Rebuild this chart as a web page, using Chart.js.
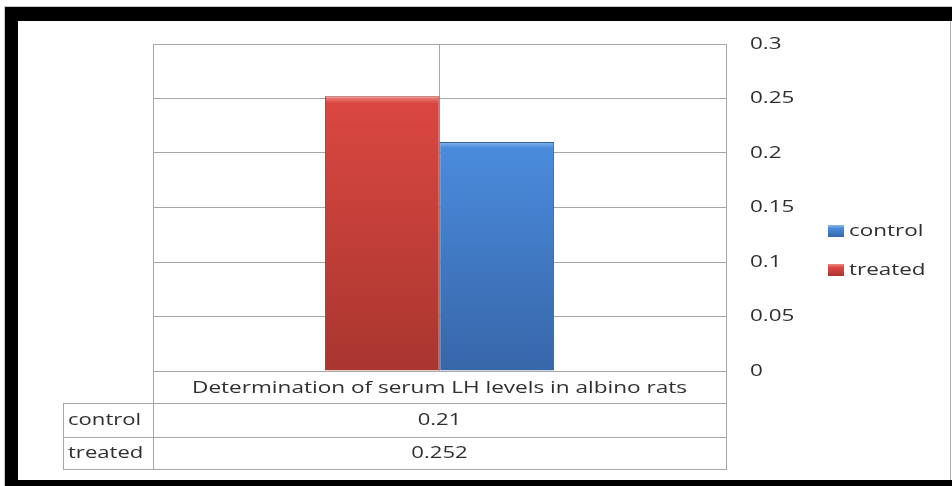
<!DOCTYPE html>
<html>
<head>
<meta charset="utf-8">
<script src="https://cdn.jsdelivr.net/npm/chart.js@4/dist/chart.umd.min.js"></script>
<style>
  body { margin: 0; background: #fff; overflow: hidden; }
  #frame {
    position: absolute; left: 5px; top: 7px; width: 960px; height: 479px;
    box-sizing: border-box; border-top: 14px solid #000; border-left: 13px solid #000;
    border-bottom: 6px solid #000; outline: 1px solid #c8c8c8;
  }
  #edge { position: absolute; left: 950px; top: 21px; width: 1px; height: 459px; background: #b0b0b0; }
  #chart { position: absolute; left: 0; top: 0; }
</style>
</head>
<body>
<div id="frame"></div>
<div id="edge"></div>
<canvas id="chart" width="952" height="486"></canvas>
<script>
const categories = ["Determination of serum LH levels in albino rats"];
const seriesNames = ["treated", "control"];
const treatedValues = [0.252];
const controlValues = [0.21];
const tableRows = ["control", "treated"];
const tableValues = ["0.21", "0.252"];
const yTickValues = [0, 0.05, 0.1, 0.15, 0.2, 0.25, 0.3];

const gridGray = "#a6a6a6";
const textColor = "#2f2f2f";
const fontFamily = "'Open Sans', sans-serif";

function barFill(light, mid, dark) {
  return (ctx) => {
    const chart = ctx.chart;
    if (!chart.chartArea || ctx.raw === undefined) return mid;
    const y = chart.scales.y;
    const top = y.getPixelForValue(ctx.raw);
    const bottom = y.getPixelForValue(0);
    const g = chart.ctx.createLinearGradient(0, top, 0, bottom);
    g.addColorStop(0, light);
    g.addColorStop(0.025, mid);
    g.addColorStop(1, dark);
    return g;
  };
}

const colors = {
  treated: { light: "#f08a82", mid: "#da4741", dark: "#a9362f", border: "#9c302b" },
  control: { light: "#86b6ee", mid: "#4a8bdc", dark: "#3766a8", border: "#31609e" },
};

// the original picture is stretched sideways, so text is widened too
function wideText(ctx, text, x, y, align, sx) {
  ctx.save();
  ctx.translate(x, y);
  ctx.scale(sx, 1);
  ctx.textAlign = align;
  ctx.fillText(text, 0, 0);
  ctx.restore();
}

// y tick labels, legend and the data table under the plot
const tablePlugin = {
  id: "dataTable",
  afterDraw(chart) {
    const ctx = chart.ctx;
    const area = chart.chartArea;
    const left = area.left, right = area.right;
    const headBottom = 403, row1Bottom = 437, tableBottom = 469, labelLeft = 63;
    ctx.save();
    ctx.strokeStyle = gridGray;
    ctx.lineWidth = 1;
    ctx.beginPath();
    ctx.moveTo(left + 0.5, area.top); ctx.lineTo(left + 0.5, tableBottom);
    ctx.moveTo(right + 0.5, area.bottom); ctx.lineTo(right + 0.5, tableBottom);
    ctx.moveTo(labelLeft + 0.5, headBottom); ctx.lineTo(labelLeft + 0.5, tableBottom);
    [headBottom, row1Bottom, tableBottom].forEach((y) => {
      ctx.moveTo(labelLeft, y + 0.5); ctx.lineTo(right + 1, y + 0.5);
    });
    ctx.stroke();

    ctx.fillStyle = textColor;
    ctx.textBaseline = "middle";

    // y axis labels
    const yScale = chart.scales.y;
    ctx.font = "17px " + fontFamily;
    yTickValues.forEach((v) => {
      wideText(ctx, String(v), right + 24, yScale.getPixelForValue(v), "left", 1.32);
    });

    ctx.font = "16px " + fontFamily;
    const cx = (left + right) / 2;
    wideText(ctx, categories[0], cx, (area.bottom + headBottom) / 2 + 1, "center", 1.41);
    const rowMid = [(headBottom + row1Bottom) / 2, (row1Bottom + tableBottom) / 2];
    tableRows.forEach((name, i) => {
      wideText(ctx, tableValues[i], cx, rowMid[i], "center", 1.38);
      wideText(ctx, name, labelLeft + 5, rowMid[i], "left", 1.38);
    });

    // legend, control first
    ctx.font = "17px " + fontFamily;
    const legendOrder = ["control", "treated"];
    legendOrder.forEach((name, i) => {
      const c = colors[name];
      const y = 231 + i * 39;
      const g = ctx.createLinearGradient(0, y - 6, 0, y + 6);
      g.addColorStop(0, c.light);
      g.addColorStop(0.3, c.mid);
      g.addColorStop(1, c.dark);
      ctx.fillStyle = g;
      ctx.fillRect(828, y - 6, 16, 12);
      ctx.fillStyle = textColor;
      wideText(ctx, name, 849, y, "left", 1.32);
    });
    ctx.restore();
  },
};

new Chart(document.getElementById("chart"), {
  type: "bar",
  data: {
    labels: categories,
    datasets: [
      {
        label: seriesNames[0],
        data: treatedValues,
        backgroundColor: barFill(colors.treated.light, colors.treated.mid, colors.treated.dark),
        borderColor: colors.treated.border,
        borderWidth: 1,
      },
      {
        label: seriesNames[1],
        data: controlValues,
        backgroundColor: barFill(colors.control.light, colors.control.mid, colors.control.dark),
        borderColor: colors.control.border,
        borderWidth: 1,
      },
    ],
  },
  options: {
    responsive: false,
    animation: false,
    categoryPercentage: 0.4,
    barPercentage: 1.0,
    layout: { padding: { left: 153, top: 44, bottom: 115, right: 0 } },
    plugins: { legend: { display: false }, tooltip: { enabled: false } },
    scales: {
      x: {
        ticks: { display: false },
        grid: { offset: false, color: gridGray, drawTicks: false },
        border: { display: false },
        afterFit: (scale) => { scale.height = 0; },
      },
      y: {
        position: "right",
        min: 0,
        max: 0.3,
        afterBuildTicks: (scale) => { scale.ticks = yTickValues.map((v) => ({ value: v })); },
        ticks: { display: false },
        grid: { color: gridGray, drawTicks: false },
        border: { color: gridGray },
        afterFit: (scale) => { scale.width = 226; },
      },
    },
  },
  plugins: [tablePlugin],
});
</script>
</body>
</html>
